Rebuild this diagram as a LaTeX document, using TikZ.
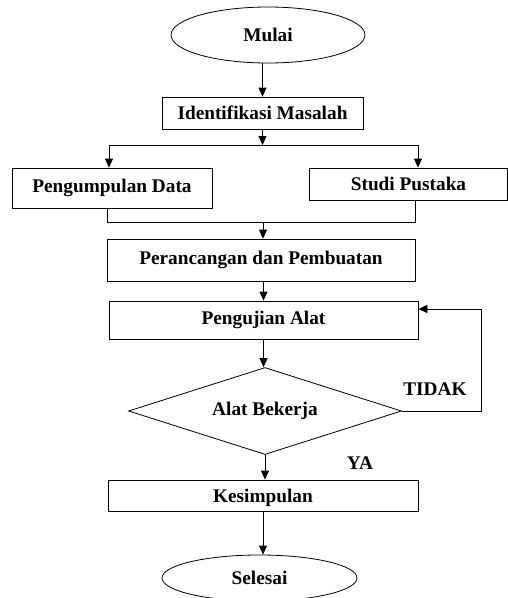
\documentclass[tikz,border=0pt]{standalone}
\usepackage{fontspec}
\setmainfont{Liberation Serif}
\usetikzlibrary{shapes.geometric,arrows.meta,calc}
\begin{document}
\begin{tikzpicture}[x=1pt,y=-1pt,
  every node/.style={font=\fontsize{19.3}{23}\selectfont\bfseries, inner sep=0pt},
  box/.style={draw, line width=0.8pt, rectangle},
  term/.style={draw, line width=0.8pt, ellipse},
  decision/.style={draw, line width=0.8pt, diamond, aspect=3.1},
  lbl/.style={},
  ln/.style={line width=0.8pt},
  arr/.style={line width=0.8pt, -{Triangle[length=9pt,width=8pt]}}]
\useasboundingbox (0,0) rectangle (508,598);
\node[term, minimum width=194pt, minimum height=56pt] (mulai) at (268,35) {Mulai};
\node[box, minimum width=201pt, minimum height=32pt] (ident) at (262.5,113) {Identifikasi Masalah};
\node[box, minimum width=200pt, minimum height=40pt] (kumpul) at (112,188) {Pengumpulan Data};
\node[box, minimum width=198pt, minimum height=32pt] (studi) at (408.5,184) {Studi Pustaka};
\node[box, minimum width=308pt, minimum height=42pt] (rancang) at (261,260) {Perancangan dan Pembuatan};
\node[box, minimum width=309pt, minimum height=38pt] (uji) at (263.5,320) {Pengujian Alat};
\node[decision, minimum width=273pt, minimum height=87pt] (dec) at (265,411) {Alat Bekerja};
\node[box, minimum width=310pt, minimum height=31pt, text depth=0pt] (simpul) at (263,495.5) {Kesimpulan};
\node[term, minimum width=195pt, minimum height=46pt] (selesai) at (259.5,578) {Selesai};
\node[lbl] (tidak) at (435,389) {TIDAK};
\node[lbl] (ya) at (360,463) {YA};
\coordinate (split) at (262.5,145);
\coordinate (sl) at (109,145);
\coordinate (sr) at (418,145);
\coordinate (merge) at (263,222);
\coordinate (ml) at (107,222);
\coordinate (mr) at (415,222);
\coordinate (loop) at (481,309);
\draw[arr] (ident.north |- mulai.south) -- (ident.north);
\draw[arr] (ident.south) -- (split);
\draw[ln] (sl) -- (sr);
\draw[arr] (sl) -- (sl |- kumpul.north);
\draw[arr] (sr) -- (sr |- studi.north);
\draw[ln] (ml |- kumpul.south) -- (ml) -- (mr) -- (mr |- studi.south);
\draw[arr] (merge) -- (merge |- rancang.north);
\draw[arr] (uji.north |- rancang.south) -- (uji.north);
\draw[arr] (uji.south) -- (uji.south |- dec.north);
\draw[arr] (dec.south) -- (dec.south |- simpul.north);
\draw[arr] (simpul.south) -- (simpul.south |- selesai.north);
\draw[arr] (dec.east) -| (loop) -- (loop -| uji.east);
\end{tikzpicture}
\end{document}
